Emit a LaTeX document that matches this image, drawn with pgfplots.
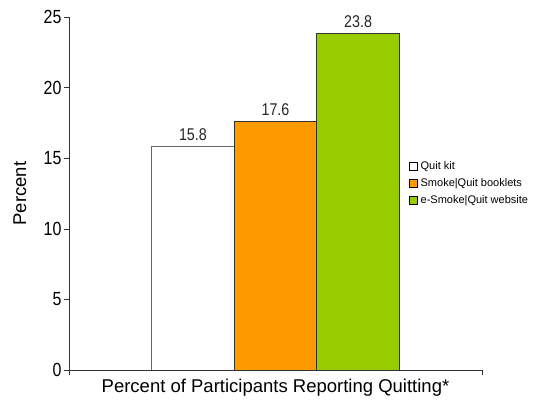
\documentclass[border=0pt]{standalone}
\usepackage{fontspec}
\setmainfont{Liberation Sans}
\newfontfamily\narrowfont[FakeStretch=0.84]{Liberation Sans}
\usepackage{pgfplots}
\pgfplotsset{compat=1.18}
\definecolor{barorange}{HTML}{FF9900}
\definecolor{bargreen}{HTML}{99CC00}
\definecolor{edgegray}{HTML}{333333}
\begin{document}
\begin{tikzpicture}
\useasboundingbox (0,0) rectangle (535bp,404bp);
\begin{axis}[
  at={(69bp,34bp)}, anchor=south west,
  scale only axis, width=413bp, height=353bp,
  axis lines=left, axis line style={-, black!80},
  xmin=0, xmax=5, ymin=0, ymax=25,
  xtick={0,5}, xticklabels={},
  ytick={0,5,10,15,20,25},
  tick align=outside, tick style={black!80, major tick length=5bp},
  /pgf/number format/assume math mode=true,
  yticklabel style={font=\narrowfont\fontsize{19bp}{22bp}\selectfont, text=black, xshift=1bp},
  ylabel={Percent},
  ylabel style={font=\fontsize{18.5bp}{21bp}\selectfont, at={(axis description cs:-0.119,0.5)}, anchor=center},
  xlabel={Percent of Participants Reporting Quitting*},
  xlabel style={font=\fontsize{18.5bp}{21bp}\selectfont, at={(axis description cs:0.5,-0.051)}, anchor=center},
  ybar, bar width=1, bar shift=0pt,
  nodes near coords,
  every node near coord/.append style={font=\narrowfont\fontsize{17bp}{20bp}\selectfont, text=black!85, yshift=2bp},
  legend style={draw=none, fill=none, at={(axis description cs:0.82,0.60)}, anchor=north west,
    font=\fontsize{11bp}{13bp}\selectfont, row sep=3.5bp, inner sep=1bp},
  legend cell align=left,
  legend image code/.code={\draw[#1, draw=black, line width=0.6pt] (0bp,-4bp) rectangle (8bp,4bp);
    \path (9bp,0bp);},
]
\addplot[fill=white, draw=black!60, line width=1pt] coordinates {(1.5,15.8)};
\addplot[fill=barorange, draw=edgegray, line width=1pt] coordinates {(2.5,17.6)};
\addplot[fill=bargreen, draw=edgegray, line width=1pt] coordinates {(3.5,23.8)};
\legend{Quit kit, Smoke|Quit booklets, e-Smoke|Quit website}
\end{axis}
\end{tikzpicture}
\end{document}
